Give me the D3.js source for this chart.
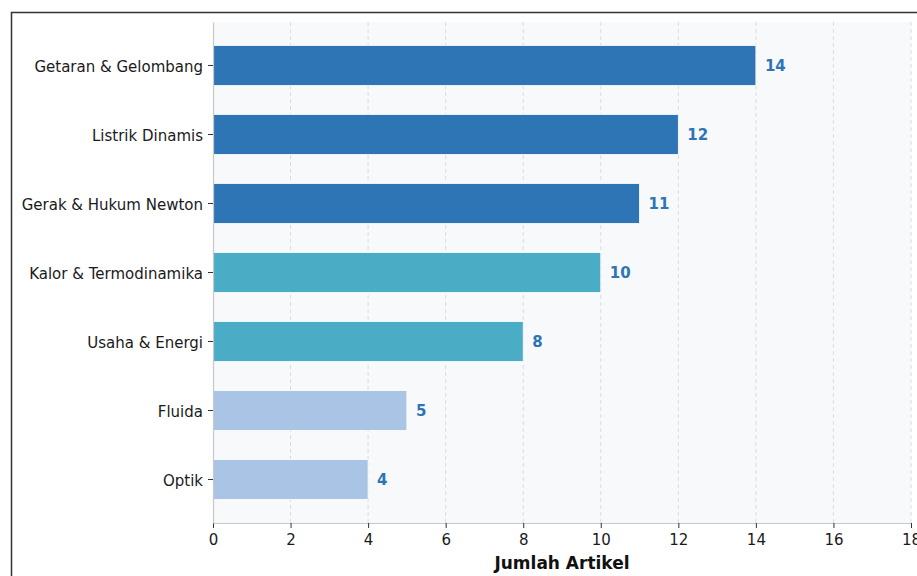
<!DOCTYPE html>
<html><head><meta charset="utf-8">
<script src="https://cdn.jsdelivr.net/npm/d3@7"></script>
<style>html,body{margin:0;padding:0;background:#fff;overflow:hidden}</style>
</head><body>
<svg id="chart" width="917" height="576"></svg>
<script>
const categories = ["Getaran & Gelombang","Listrik Dinamis","Gerak & Hukum Newton","Kalor & Termodinamika","Usaha & Energi","Fluida","Optik"];
const values = [14,12,11,10,8,5,4];
const colors = ["#2e75b6","#2e75b6","#2e75b6","#4bacc6","#4bacc6","#a9c4e4","#a9c4e4"];
const xTicks = [0,2,4,6,8,10,12,14,16,18];
const xLabel = "Jumlah Artikel";

const svg = d3.select("#chart");
const font = "DejaVu Sans, sans-serif";
const L = 213, R = 911, T = 22, B = 523;

// outer frame
svg.append("path").attr("d", `M11.5,576 L11.5,12.5 L917,12.5`)
  .attr("fill","none").attr("stroke","#333").attr("stroke-width",1.5);

const x = d3.scaleLinear().domain([0,18]).range([L,R]);
const y = d3.scaleBand().domain(categories).range([T,B]).paddingInner(0.42).paddingOuter(0.34);

svg.append("rect").attr("x",L).attr("y",T).attr("width",R-L).attr("height",B-T).attr("fill","#f8f9fa");

// grid
svg.append("g").selectAll("line").data(xTicks.filter(d=>d>0)).join("line")
  .attr("x1",d=>x(d)).attr("x2",d=>x(d)).attr("y1",T).attr("y2",B)
  .attr("stroke","#dcdcdc").attr("stroke-width",1).attr("stroke-dasharray","4,3");

// bars
svg.append("g").selectAll("rect").data(categories).join("rect")
  .attr("x",x(0)).attr("y",d=>y(d)).attr("height",y.bandwidth())
  .attr("width",(d,i)=>x(values[i])-x(0)).attr("fill",(d,i)=>colors[i])
  .attr("stroke","#fff").attr("stroke-width",0.8);

// value labels
svg.append("g").selectAll("text").data(categories).join("text")
  .attr("x",(d,i)=>x(values[i])+9).attr("y",d=>y(d)+y.bandwidth()/2)
  .attr("dy","0.35em").attr("fill","#2e75b6").attr("font-weight","bold")
  .attr("font-family",font).attr("font-size",15).text((d,i)=>values[i]);

// axes
const xAxis = svg.append("g").attr("transform",`translate(0,${B})`)
  .call(d3.axisBottom(x).tickValues(xTicks).tickSize(5).tickSizeOuter(0).tickPadding(6).tickFormat(d3.format("d")));
const yAxis = svg.append("g").attr("transform",`translate(${L},0)`)
  .call(d3.axisLeft(y).tickSize(5).tickSizeOuter(0).tickPadding(5));
[xAxis,yAxis].forEach(g=>{
  g.select(".domain").attr("stroke","#c8c8c8").attr("stroke-width",1.2);
  g.selectAll(".tick line").attr("stroke","#333");
  g.selectAll(".tick text").attr("fill","#1a1a1a").attr("font-family",font).attr("font-size",15);
});
yAxis.selectAll(".tick text").attr("dy","0.42em");

svg.append("text").attr("x",(L+R)/2).attr("y",569).attr("text-anchor","middle")
  .attr("font-family",font).attr("font-weight","bold").attr("font-size",17).attr("fill","#111").text(xLabel);
</script>
</body></html>
